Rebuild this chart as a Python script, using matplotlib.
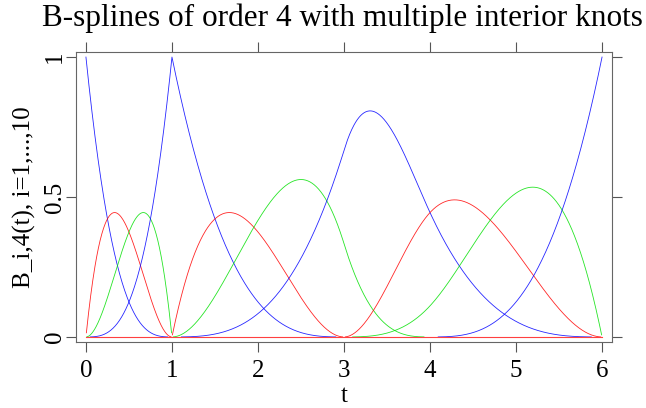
import matplotlib
matplotlib.use("Agg")
import matplotlib.pyplot as plt
import numpy as np

# knot vector (order 4, triple knot at 1, double at 3)
knots = [0, 0, 0, 0, 1, 1, 1, 3, 3, 4, 6, 6, 6, 6]
order = 4
colors = ["#0000ff", "#ff0000", "#00e000"]
xticks = [0, 1, 2, 3, 4, 5, 6]
yticks = [0, 0.5, 1]
yticklabels = ["0", "0.5", "1"]


def bspline_basis(t, knots, k):
    # Cox-de Boor recursion
    knots = np.asarray(knots, dtype=float)
    n = len(knots) - 1
    B = np.zeros((n, len(t)))
    for i in range(n):
        if knots[i] < knots[i + 1]:
            B[i] = (t >= knots[i]) & (t < knots[i + 1])
    # close the last non-empty interval on the right
    last = max(i for i in range(n) if knots[i] < knots[i + 1])
    B[last, t == knots[-1]] = 1.0
    for d in range(2, k + 1):
        Bn = np.zeros((n - d + 1, len(t)))
        for i in range(n - d + 1):
            left = knots[i + d - 1] - knots[i]
            right = knots[i + d] - knots[i + 1]
            if left > 0:
                Bn[i] += (t - knots[i]) / left * B[i]
            if right > 0:
                Bn[i] += (knots[i + d] - t) / right * B[i + 1]
        B = Bn
    return B


t = np.linspace(0, 6, 1201)
basis = bspline_basis(t, knots, order)

plt.rcParams["font.family"] = ["Liberation Serif", "DejaVu Serif"]
fig = plt.figure(figsize=(6.46, 4.08), dpi=100)
ax = fig.add_axes([0.1176, 0.1618, 0.9474 - 0.1176, 0.8725 - 0.1618])

for i, b in enumerate(basis):
    # only draw where the basis function is non-zero
    ax.plot(t, np.where(b > 1e-4, b, np.nan), color=colors[i % 3], lw=0.6,
            alpha=0.85, zorder=2)
# zero line, as in the original
ax.plot([0, 6], [0, 0], color="#ff4040", lw=0.8, zorder=5)

ax.set_xlim(-0.116, 6.116)
ax.set_ylim(-0.018, 1.018)
ax.set_xticks(xticks)
ax.set_yticks(yticks)
ax.set_yticklabels(yticklabels, rotation=90, va="center")
ax.tick_params(direction="out", length=7, width=0.8, color="#555555",
               labelsize=18, top=True, right=True)
ax.tick_params(axis="x", pad=6)
ax.tick_params(axis="y", pad=0)
for s in ax.spines.values():
    s.set_color("#666666")
    s.set_linewidth(0.8)

ax.set_xlabel("t", fontsize=18, labelpad=2)
ax.set_ylabel("B_i,4(t), i=1,...,10", fontsize=18, labelpad=6)
fig.text(0.5297, 1 - 26 / 408, "B-splines of order 4 with multiple interior knots",
         fontsize=22.5, ha="center", va="baseline")

fig.savefig("out.png", dpi=100)
